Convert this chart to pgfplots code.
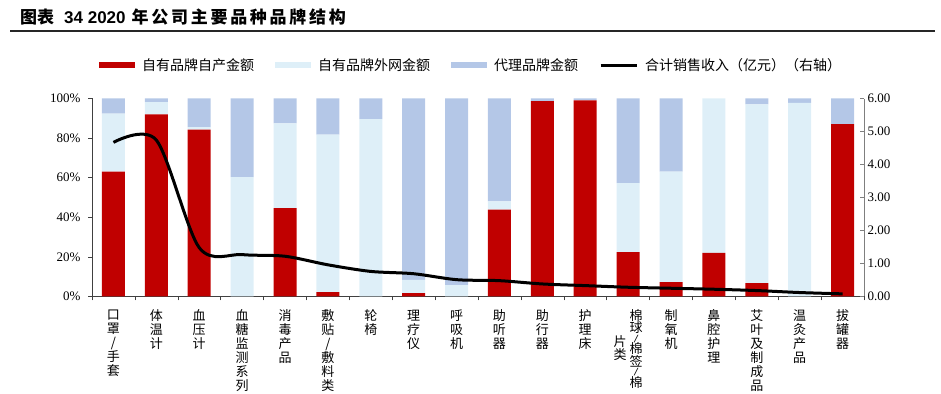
\documentclass[border=0pt]{standalone}
\usepackage{fontspec}
\usepackage{graphicx}
\usepackage{pgfplots}
\usepackage{pgfplotstable}
\pgfplotsset{compat=1.18}
\setmainfont{Liberation Serif}
\newfontfamily\cjk{Noto Sans CJK SC}
\newfontfamily\arialf{Liberation Sans}
\definecolor{cred}{HTML}{C00000}
\definecolor{clight}{HTML}{DEEFF8}
\definecolor{cblue}{HTML}{B4C7E7}
\definecolor{axgray}{HTML}{7F7F7F}
\newcommand{\vslash}{\raisebox{1.5pt}{\scalebox{1}[0.6]{/}}}

\pgfplotstableread{
x own ext agent total
0 63.1 29.2 7.7 4.67
1 92.0 6.2 1.8 4.74
2 84.3 1.2 14.5 1.48
3 0 60.3 39.7 1.27
4 44.6 42.8 12.6 1.22
5 2.2 79.6 18.2 0.96
6 0 89.6 10.4 0.76
7 1.7 6.7 91.6 0.69
8 0 5.7 94.3 0.51
9 43.9 4.2 51.9 0.48
10 98.7 0 1.3 0.38
11 99.0 0 1.0 0.33
12 22.4 34.8 42.8 0.28
13 7.2 55.9 36.9 0.25
14 22.0 78.0 0 0.22
15 6.7 90.3 3.0 0.18
16 0 97.8 2.2 0.12
17 87.0 0 13.0 0.08
}\data

\begin{document}
\begin{tikzpicture}[x=1pt,y=1pt]
\useasboundingbox (0,0) rectangle (941,393);
\node[anchor=base west, inner sep=0pt] at (20,369) {\cjk\fontsize{17}{19}\selectfont\bfseries 图表\hspace{10pt}{\arialf\bfseries 34 2020}\hspace{6pt}{\addfontfeature{LetterSpace=16}年公司主要品种品牌结构}};
\draw[line width=1.3pt, black!85] (10,362) -- (935,362);

\begin{axis}[
  at={(92pt,96.5pt)}, anchor=south west,
  width=772pt, height=198pt, scale only axis,
  ybar stacked, bar width=23pt,
  xmin=-0.5, xmax=17.5, ymin=0, ymax=100,
  axis x line*=bottom, axis y line*=left,
  axis line style={black!75, line width=0.6pt},
  xtick={0,...,17},
  major x tick style={draw=none},
  minor xtick={-0.5,0.5,...,17.5},
  minor x tick style={black!75, line width=0.5pt},
  minor tick length=4pt,
  xticklabels={{口\\罩\\/\\手\\套},{体\\温\\计},{血\\压\\计},{血\\糖\\监\\测\\系\\列},{消\\毒\\产\\品},{敷\\贴\\/\\敷\\料\\类},{轮\\椅},{理\\疗\\仪},{呼\\吸\\机},{助\\听\\器},{助\\行\\器},{护\\理\\床},{\raisebox{-26pt}{\begin{tabular}[t]{@{}c@{}}片\\[-2pt]类\end{tabular}}\hspace{3pt}\begin{tabular}[t]{@{}c@{}}棉\\[-3pt]球\\[-4pt]\vslash\\[-4pt]棉\\[-3pt]签\\[-4pt]\vslash\\[-4pt]棉\end{tabular}},{制\\氧\\机},{鼻\\腔\\护\\理},{艾\\叶\\及\\制\\成\\品},{温\\灸\\产\\品},{拔\\罐\\器}},
  xticklabel style={font=\cjk\fontsize{13}{14}\selectfont, align=center, anchor=north, inner sep=0pt, yshift=-9pt},
  ytick={0,20,...,100},
  yticklabel={\pgfmathprintnumber{\tick}\%},
  yticklabel style={font=\fontsize{13}{15}\selectfont, xshift=-4pt},
  y tick style={black!75, line width=0.5pt},
  tick align=outside, major tick length=4pt,
  /pgf/number format/assume math mode=true,
  legend columns=4,
  legend style={at={(0.009,1.169)}, anchor=west, draw=none, fill=none, inner sep=0pt,
    font=\cjk\fontsize{14}{16}\selectfont, nodes={inner xsep=0pt, inner ysep=1pt},
    /tikz/every odd column/.append style={column sep=7pt},
    /tikz/every even column/.append style={column sep=21pt}},
  legend cell align=left,
]
\addplot[fill=cred, draw=none, legend image code/.code={\fill[cred] (0pt,-3.3pt) rectangle (36pt,3.3pt);}] table[x=x,y=own] {\data};
\addlegendentry{自有品牌自产金额}
\addplot[fill=clight, draw=none, legend image code/.code={\fill[clight] (0pt,-3.3pt) rectangle (36pt,3.3pt);}] table[x=x,y=ext] {\data};
\addlegendentry{自有品牌外网金额}
\addplot[fill=cblue, draw=none, legend image code/.code={\fill[cblue] (0pt,-3.3pt) rectangle (36pt,3.3pt);}] table[x=x,y=agent] {\data};
\addlegendentry{代理品牌金额}
\addlegendimage{legend image code/.code={\draw[black, line width=3pt] (0pt,0pt) -- (36pt,0pt);}}
\addlegendentry{合计销售收入（亿元）（右轴）}
\end{axis}

\begin{axis}[
  at={(92pt,96.5pt)}, anchor=south west,
  width=772pt, height=198pt, scale only axis,
  xmin=-0.5, xmax=17.5, ymin=0, ymax=6,
  axis x line=none, axis y line*=right,
  axis line style={axgray, line width=0.6pt},
  ytick={0,1,...,6},
  y tick style={axgray, line width=0.5pt},
  tick align=inside, major tick length=4pt,
  yticklabel style={font=\fontsize{13}{15}\selectfont, /pgf/number format/.cd, fixed, fixed zerofill, precision=2},
  /pgf/number format/assume math mode=true,
]
\addplot[black, line width=3pt, smooth, tension=0.5, mark=none] table[x=x,y=total] {\data};
\end{axis}
\end{tikzpicture}
\end{document}
